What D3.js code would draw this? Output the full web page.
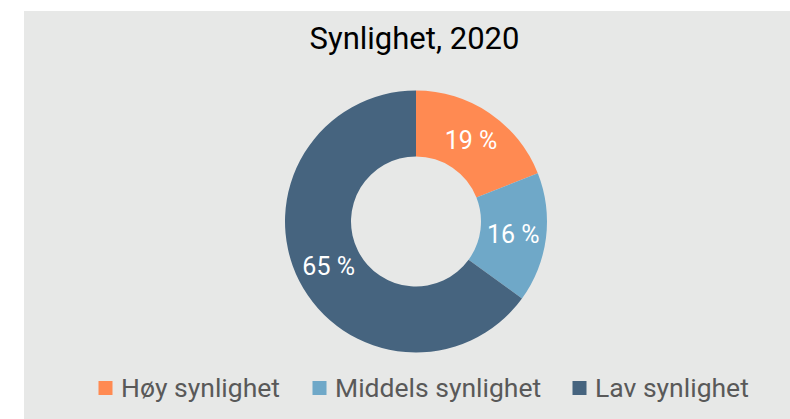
<!DOCTYPE html>
<html>
<head>
<meta charset="utf-8">
<script src="https://cdn.jsdelivr.net/npm/d3@7"></script>
<style>
html,body{margin:0;padding:0;background:#fff;}
svg{display:block;font-family:Roboto,"Noto Sans",sans-serif;}
</style>
</head>
<body>
<script>
const categories = ["Høy synlighet", "Middels synlighet", "Lav synlighet"];
const values = [19, 16, 65];
const colors = ["#ff8a52", "#6fa8c8", "#46647f"];
const title = "Synlighet, 2020";

const W = 790, H = 419;
const svg = d3.select("body").append("svg").attr("width", W).attr("height", H);

svg.append("rect").attr("x", 24).attr("y", 11).attr("width", W - 24).attr("height", H - 11)
  .attr("fill", "#e7e8e7");

svg.append("text").attr("x", 414.5).attr("y", 48.5).attr("text-anchor", "middle")
  .attr("font-size", 31).attr("fill", "#000").text(title);

const cx = 416, cy = 221.5, rOuter = 131, rInner = 65;
const g = svg.append("g").attr("transform", `translate(${cx},${cy})`);
const data = categories.map((c, i) => ({ cat: c, value: values[i], color: colors[i] }));
const pie = d3.pie().value(d => d.value).sort(null);
const arc = d3.arc().innerRadius(rInner).outerRadius(rOuter);
const arcs = pie(data);

g.selectAll("path").data(arcs).join("path")
  .attr("d", arc).attr("fill", d => d.data.color);

g.selectAll("text.lbl").data(arcs).join("text").attr("class", "lbl")
  .attr("transform", d => `translate(${arc.centroid(d)})`)
  .attr("text-anchor", "middle").attr("dy", "0.35em")
  .attr("font-size", 25).attr("fill", "#fff")
  .text(d => d.data.value + " %");

// legend
const legX = [98.5, 312.5, 572.5];
const leg = svg.append("g");
data.forEach((d, i) => {
  leg.append("rect").attr("x", legX[i]).attr("y", 381).attr("width", 14).attr("height", 14)
    .attr("fill", d.color);
  leg.append("text").attr("x", legX[i] + 22.5).attr("y", 396.5)
    .attr("font-size", 26.5).attr("fill", "#595959").text(d.cat);
});
</script>
</body>
</html>
